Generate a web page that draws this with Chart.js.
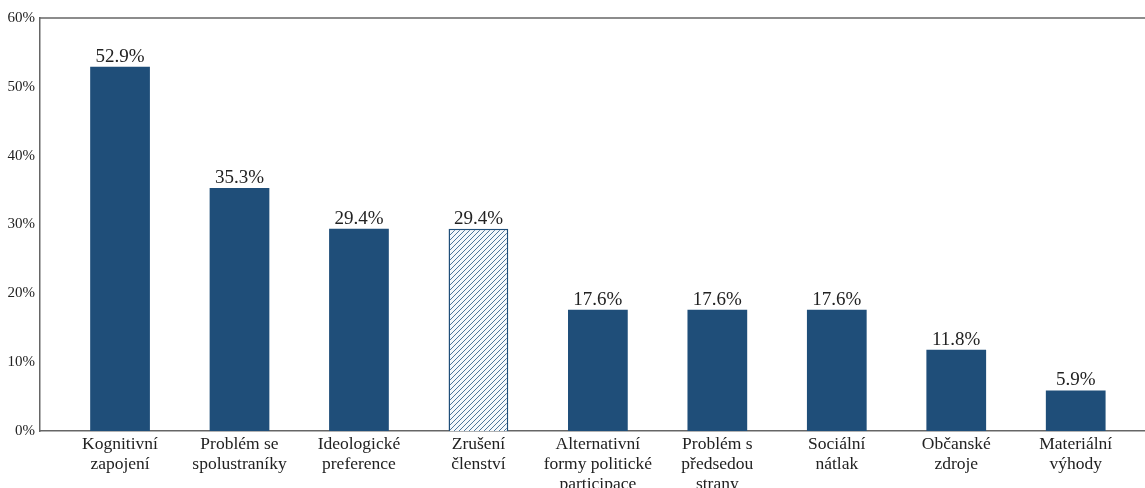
<!DOCTYPE html>
<html>
<head>
<meta charset="utf-8">
<script src="https://cdn.jsdelivr.net/npm/chart.js@4"></script>
<style>
  html, body { margin: 0; padding: 0; background: #fff; overflow: hidden; }
  #wrap { width: 1145px; height: 488px; position: relative; }
</style>
</head>
<body>
<div id="wrap"><canvas id="chart"></canvas></div>
<script>
// Data
const categories = [
    ['Kognitivní', 'zapojení'],
    ['Problém se', 'spolustraníky'],
    ['Ideologické', 'preference'],
    ['Zrušení', 'členství'],
    ['Alternativní', 'formy politické', 'participace'],
    ['Problém s', 'předsedou', 'strany'],
    ['Sociální', 'nátlak'],
    ['Občanské', 'zdroje'],
    ['Materiální', 'výhody']
];
const shares = [52.9, 35.3, 29.4, 29.4, 17.6, 17.6, 17.6, 11.8, 5.9];
const yTicks = [0, 10, 20, 30, 40, 50, 60];
const hatchedIndex = 3;

const BLUE = '#1f4e79';
const AXIS = '#666';
const SERIF = '"Liberation Serif", "DejaVu Serif", serif';

// Hatch pattern for the highlighted bar
function makeHatch() {
    const s = 5;
    const c = document.createElement('canvas');
    c.width = s;
    c.height = s;
    const g = c.getContext('2d');
    g.fillStyle = '#f4f8fc';
    g.fillRect(0, 0, s, s);
    g.strokeStyle = '#3a6690';
    g.lineWidth = 0.9;
    g.beginPath();
    g.moveTo(0, s); g.lineTo(s, 0);
    g.moveTo(-s, s); g.lineTo(s, -s);
    g.moveTo(0, 2 * s); g.lineTo(2 * s, 0);
    g.stroke();
    return g.createPattern(c, 'repeat');
}
const hatch = makeHatch();

// Value labels above bars + top frame line
const valueLabels = {
    id: 'valueLabels',
    afterDatasetsDraw(chart) {
        const ctx = chart.ctx;
        const meta = chart.getDatasetMeta(0);
        ctx.save();
        ctx.font = '19px ' + SERIF;
        ctx.fillStyle = '#222';
        ctx.textAlign = 'center';
        ctx.textBaseline = 'alphabetic';
        meta.data.forEach((bar, i) => {
            ctx.fillText(shares[i].toFixed(1) + '%', bar.x, bar.y - 5);
        });
        ctx.restore();
    },
    afterDraw(chart) {
        const { ctx, chartArea } = chart;
        ctx.save();
        ctx.strokeStyle = AXIS;
        ctx.lineWidth = 1.5;
        ctx.beginPath();
        ctx.moveTo(chartArea.left, chartArea.top);
        ctx.lineTo(chartArea.right, chartArea.top);
        ctx.stroke();
        ctx.restore();
    }
};

new Chart(document.getElementById('chart'), {
    type: 'bar',
    data: {
        datasets: [{
            data: shares.map((v, i) => ({ x: i, y: v })),
            backgroundColor: shares.map((v, i) => i === hatchedIndex ? hatch : BLUE),
            borderColor: BLUE,
            borderWidth: shares.map((v, i) => i === hatchedIndex ? 1.5 : 0),
            categoryPercentage: 0.5,
            barPercentage: 1
        }]
    },
    options: {
        responsive: true,
        maintainAspectRatio: false,
        animation: false,
        layout: { padding: { top: 18, right: 0, left: 0, bottom: 0 } },
        plugins: {
            legend: { display: false },
            tooltip: { enabled: false }
        },
        scales: {
            x: {
                type: 'linear',
                offset: false,
                min: -0.67,
                max: 8.58,
                grid: { display: false, drawTicks: false },
                border: { display: true, color: AXIS, width: 1.5 },
                afterBuildTicks: (scale) => {
                    scale.ticks = categories.map((c, i) => ({ value: i }));
                },
                afterFit: (scale) => { scale.height = 57; },
                ticks: {
                    autoSkip: false,
                    maxRotation: 0,
                    padding: 3,
                    color: '#222',
                    font: { family: SERIF, size: 17.5, lineHeight: 1.15 },
                    callback: (v) => categories[v]
                }
            },
            y: {
                min: 0,
                max: 60,
                grid: { display: false, drawTicks: false },
                border: { display: true, color: AXIS, width: 1.5 },
                afterBuildTicks: (scale) => {
                    scale.ticks = yTicks.map(v => ({ value: v }));
                },
                afterFit: (scale) => { scale.width = 40; },
                ticks: {
                    padding: 5,
                    color: '#222',
                    font: { family: SERIF, size: 15 },
                    callback: (v) => v + '%'
                }
            }
        }
    },
    plugins: [valueLabels]
});
</script>
</body>
</html>
